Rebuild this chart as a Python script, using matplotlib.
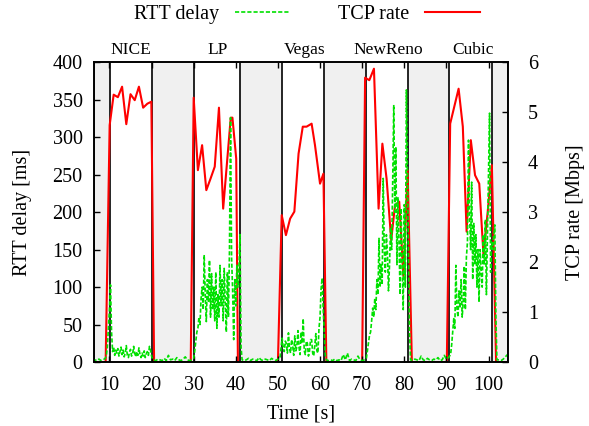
import matplotlib
matplotlib.use("Agg")
import matplotlib.pyplot as plt
import numpy as np

# RTT delay [ms]: idle periods sampled every 0.5 s, active flows every 0.25 s
rtt_idle_0 = [2, 3, 2, 4, 2, 3, 5]
rtt_nice = [8, 20, 45,
            70, 103, 40, 14, 20, 9, 16, 12, 18, 8, 14, 20, 10, 16, 7, 12, 22, 9, 6, 13,
            17, 8, 11, 21, 12, 7, 14, 9, 19, 10, 6, 12, 8, 15, 6, 11, 14, 9, 21, 16,
            8, 4, 3]
rtt_idle_1 = [2, 4, 3, 2, 5, 2, 9, 3, 4, 2, 6, 3, 2, 4, 7, 3, 2, 3]
rtt_lp = [5, 15, 28, 40, 45, 60, 50, 85, 100, 70, 143, 90, 54, 110, 80, 136,
          60, 118, 70, 100, 55, 120, 45, 90, 60, 129, 75, 110, 55, 125, 80, 40,
          120, 60, 150, 326, 140, 95, 30, 110, 75, 130, 100, 125, 170, 20, 3]
rtt_idle_2 = [2, 3, 5, 2, 4, 3, 2, 6, 3, 2, 4, 3, 2, 5, 3, 2, 4, 6]
rtt_vegas = [32, 20, 14, 28, 25, 12, 39, 18, 12, 30, 22, 9, 35, 15, 20, 42,
             20, 10, 40, 25, 58, 15, 10, 28, 25, 8, 15, 30, 30, 12, 8, 22,
             38, 15, 12, 45, 60, 98, 112, 70, 40, 10, 3]
rtt_idle_3 = [2, 3, 2, 4, 2, 3, 2, 10, 3, 12, 2, 4, 3, 2, 8, 3, 2, 3]
rtt_newreno = [5, 15, 25, 36, 40, 55, 72, 60, 85, 70, 110, 90, 165, 100, 130, 103,
               245, 150, 120, 170, 146, 95, 130, 180, 150, 240, 343, 200, 287, 130, 220, 160,
               90, 205, 130, 70, 210, 100, 363, 250, 150, 40, 3]
rtt_idle_4 = [2, 4, 3, 2, 8, 3, 2, 5, 3, 2, 4, 3, 6, 2, 3, 9, 4, 6]
rtt_cubic = [10, 23, 40, 58, 45, 129, 72, 60, 95, 72, 110, 60, 80, 128, 70, 140,
             160, 296, 200, 150, 240, 110, 185, 130, 170, 100, 150, 80, 150, 120, 100, 170,
             130, 190, 90, 170, 250, 332, 120, 160, 150, 170, 183, 60, 3]
rtt_idle_5 = [3, 2, 4, 7, 10]

# (start time [s], sample step [s], values)
rtt_segments = [
    (6.0, 0.5, rtt_idle_0), (9.25, 0.25, rtt_nice),
    (21.0, 0.5, rtt_idle_1), (30.0, 0.25, rtt_lp),
    (42.0, 0.5, rtt_idle_2), (51.0, 0.25, rtt_vegas),
    (62.0, 0.5, rtt_idle_3), (71.0, 0.25, rtt_newreno),
    (82.0, 0.5, rtt_idle_4), (91.0, 0.25, rtt_cubic),
    (102.5, 0.5, rtt_idle_5),
]

# TCP rate [Mbps]
rate_time = [
    6.25, 9.1,
    10.05, 11.0, 12.0, 13.0, 14.0, 15.0, 16.0, 17.0, 18.0, 19.0, 19.95, 20.6,
    29.3, 30.0, 31.0, 32.0, 33.0, 34.0, 35.0, 36.0, 37.0, 38.8, 39.2, 40.1, 40.5,
    50.0, 50.9, 51.9, 52.9, 53.9, 54.9, 55.9, 56.8, 58.0, 58.8, 60.0, 60.8, 61.5,
    70.0, 70.7, 71.7, 72.8, 73.9, 74.8, 75.8, 76.9, 77.8, 78.8, 79.8, 80.8, 81.8,
    90.1, 90.9, 92.9, 93.9, 94.8, 95.8, 96.8, 97.8, 98.8, 99.8, 100.8, 101.8,
    104.7,
]
rate_mbps = [
    0, 0,
    4.74, 5.35, 5.30, 5.51, 4.76, 5.36, 5.24, 5.51, 5.09, 5.17, 5.21, 0,
    0, 5.29, 3.84, 4.34, 3.44, 3.67, 3.91, 5.09, 3.07, 4.89, 4.89, 4.07, 0,
    0, 2.94, 2.54, 2.87, 3.01, 4.17, 4.71, 4.71, 4.77, 4.34, 3.57, 3.77, 0,
    0, 5.69, 5.64, 5.87, 3.07, 4.37, 3.67, 2.44, 3.14, 3.21, 1.71, 3.84, 0,
    0, 4.77, 5.47, 4.71, 2.61, 4.44, 3.74, 3.57, 2.15, 3.0, 3.94, 0,
    0,
]

# idle periods (no TCP flow) and flow names
idle_periods = [(6.25, 10.05), (20.1, 30.0), (40.9, 50.9), (60.9, 70.8), (80.8, 90.7), (100.8, 104.7)]
flow_names = ["NICE", "LP", "Vegas", "NewReno", "Cubic"]
flow_centers = [15.1, 35.8, 56.3, 76.2, 96.2]

x_ticks = [10, 20, 30, 40, 50, 60, 70, 80, 90, 100]
rtt_ticks = [0, 50, 100, 150, 200, 250, 300, 350, 400]
rate_ticks = [0, 1, 2, 3, 4, 5, 6]

plt.rcParams["font.family"] = ["Liberation Serif", "DejaVu Serif"]
plt.rcParams["font.size"] = 14.5

fig = plt.figure(figsize = (5.89, 4.26), dpi = 100)
ax = fig.add_axes([0.159, 0.150, 0.704, 0.704])
ax2 = ax.twinx()

# shaded idle periods with black borders (drawn on the rate axis, underneath)
for start, end in idle_periods:
    ax2.axvspan(start, end, facecolor = "#f0f0f0", edgecolor = "none", zorder = 0)
    for edge in (start, end):
        ax2.axvline(edge, color = "black", lw = 1.2, zorder = 1)

rate_line, = ax2.plot(rate_time, rate_mbps, color = "#ff0000", lw = 1.5, zorder = 2)

# RTT axis on top so the green trace sits over the red one
ax.set_zorder(ax2.get_zorder() + 1)
ax.patch.set_visible(False)
rtt_time = np.concatenate([start + step * np.arange(len(vals)) for start, step, vals in rtt_segments])
rtt_vals = np.concatenate([vals for _, _, vals in rtt_segments])
rtt_line, = ax.plot(rtt_time, rtt_vals, color = "#00e000", lw = 1.2, dashes = (2.5, 1.2))

ax.set_xlim(6.25, 104.7)
ax.set_ylim(0, 400)
ax2.set_ylim(0, 6)

ax.set_xticks(x_ticks)
ax.set_yticks(rtt_ticks)
ax2.set_yticks(rate_ticks)

ax.tick_params(axis = "x", direction = "in", top = True, length = 4, width = 1, pad = 10)
ax.tick_params(axis = "y", direction = "in", left = True, right = False, length = 4, width = 1, pad = 8)
ax2.tick_params(axis = "y", direction = "in", length = 4, width = 1, pad = 14)

for spine in ax.spines.values():
    spine.set_linewidth(1.2)
for spine in ax2.spines.values():
    spine.set_linewidth(1.2)

ax.set_xlabel("Time [s]", labelpad = 7)
ax.set_ylabel("RTT delay [ms]", labelpad = 15)
ax2.set_ylabel("TCP rate [Mbps]", labelpad = 20)

# flow names above each active period
for name, xc in zip(flow_names, flow_centers):
    ax.text(xc, 1.027, name, transform = ax.get_xaxis_transform(), ha = "center", va = "baseline", fontsize = 12.5)

fig.legend([rtt_line, rate_line], ["RTT delay", "TCP rate"], loc = "center", bbox_to_anchor = (0.521, 0.966),
           ncol = 2, markerfirst = False, frameon = False, handlelength = 2.7, handletextpad = 0.8,
           columnspacing = 2.4, fontsize = 14.5)

plt.savefig("out.png", dpi = 100)
plt.close()
